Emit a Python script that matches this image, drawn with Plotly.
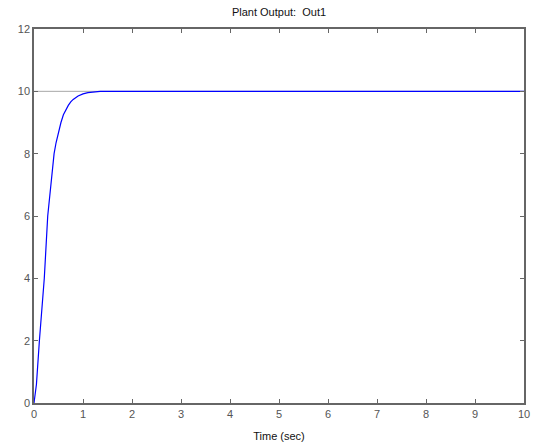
import plotly.graph_objects as go

# Data
time_s = [0, 0.05, 0.11, 0.21, 0.28, 0.38, 0.41, 0.45, 0.50, 0.55, 0.60, 0.65, 0.70, 0.75, 0.80, 0.90, 1.00, 1.10, 1.20, 1.35, 1.60, 10]
output = [0, 0.6, 2.0, 4.0, 6.0, 7.7, 8.0, 8.35, 8.7, 9.0, 9.25, 9.42, 9.55, 9.66, 9.74, 9.85, 9.92, 9.96, 9.98, 10.0, 10.0, 10.0]
ref_time = [0, 10]
ref_value = [10, 10]
x_ticks = list(range(0, 11))
y_ticks = [0, 2, 4, 6, 8, 10, 12]

axis_col = "#666666"
font_fam = "Liberation Sans, Arial, sans-serif"

fig = go.Figure()
fig.add_trace(go.Scatter(x=ref_time, y=ref_value, mode="lines",
                         line=dict(color="#a8a8a8", width=1), hoverinfo="skip"))
fig.add_trace(go.Scatter(x=time_s, y=output, mode="lines",
                         line=dict(color="#0000ff", width=1.2)))

fig.update_layout(
    width=540, height=444,
    margin=dict(l=34, r=16, t=29, b=41),
    paper_bgcolor="white", plot_bgcolor="white",
    showlegend=False,
    font=dict(family=font_fam, size=11, color="#555555"),
    title=dict(text="Plant Output:  Out1", x=279/540, xanchor="center",
               y=1 - 12/444, yanchor="middle",
               font=dict(family=font_fam, size=11, color="#111111")),
)
fig.update_xaxes(range=[0, 10], tickvals=x_ticks, showgrid=False, zeroline=False,
                 showline=True, linecolor=axis_col, linewidth=1.5, mirror="ticks",
                 ticks="inside", ticklen=4, tickcolor=axis_col, automargin=False,
                 title=dict(text="Time (sec)", standoff=13,
                            font=dict(family=font_fam, size=11, color="#111111")))
fig.update_yaxes(range=[0, 12], tickvals=y_ticks, showgrid=False, zeroline=False,
                 showline=True, linecolor=axis_col, linewidth=1.5, mirror="ticks",
                 ticks="inside", ticklen=4, tickcolor=axis_col, automargin=False)

fig.write_html("out.html", config={"displayModeBar": False},
               post_script="document.body.style.margin='0';")
